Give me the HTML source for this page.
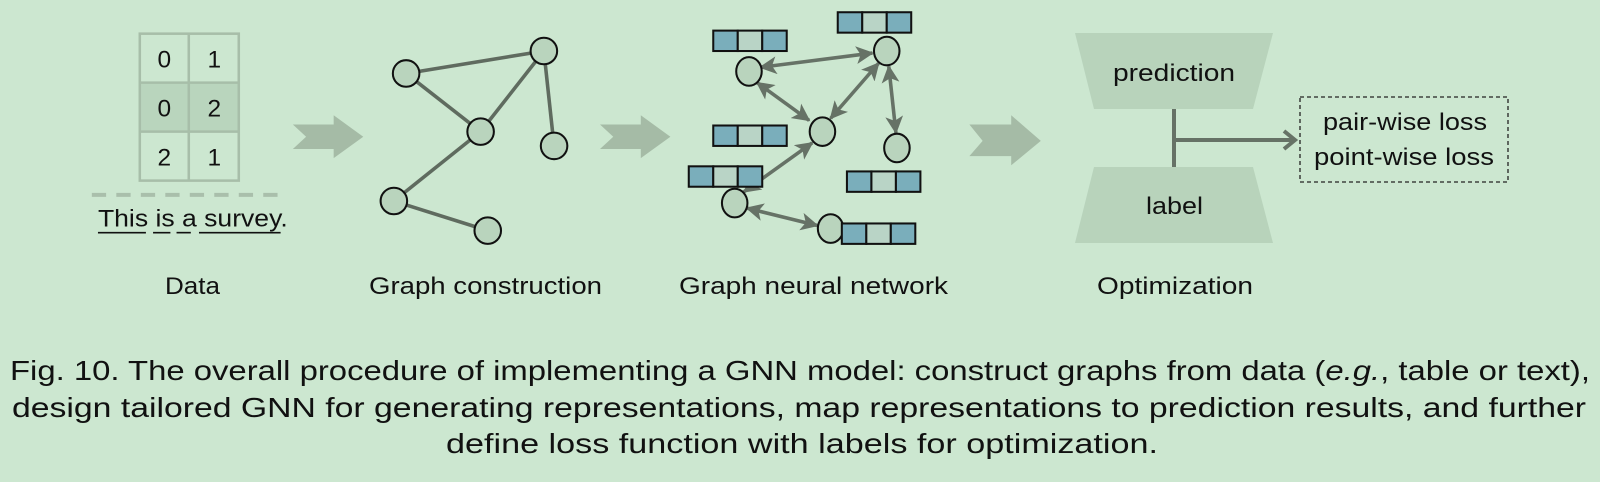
<!DOCTYPE html>
<html><head><meta charset="utf-8"><style>
html,body{margin:0;padding:0;background:#cce7d0;}
svg{display:block}
text{font-family:"Liberation Sans",sans-serif;fill:#111}
</style></head><body>
<svg width="1600" height="482" viewBox="0 0 1600 482" xmlns="http://www.w3.org/2000/svg">
<defs>
<marker id="ah" viewBox="0 0 12 12" refX="11" refY="6" markerWidth="5" markerHeight="5" orient="auto-start-reverse" markerUnits="strokeWidth">
<path d="M0,0 L12,6 L0,12 L3,6 Z" fill="#667266"/>
</marker>
</defs>
<rect width="1600" height="482" fill="#cce7d0"/>
<g transform="scale(1.0204)">
<!-- table -->
<rect x="137" y="81" width="97" height="48" fill="#b9d5bd"/>
<g stroke="#a7bea9" stroke-width="2.5" fill="none">
<rect x="137" y="33" width="97" height="144"/>
<line x1="185" y1="33" x2="185" y2="177"/>
<line x1="137" y1="81" x2="234" y2="81"/>
<line x1="137" y1="129" x2="234" y2="129"/>
</g>
<g font-size="24" text-anchor="middle">
<text x="161" y="66">0</text><text x="210" y="66">1</text>
<text x="161" y="114">0</text><text x="210" y="114">2</text>
<text x="161" y="162">2</text><text x="210" y="162">1</text>
</g>
<line x1="90" y1="191" x2="278" y2="191" stroke="#a9bfab" stroke-width="4" stroke-dasharray="14 10"/>
<text x="96" y="222" font-size="24" textLength="186" lengthAdjust="spacingAndGlyphs">This is a survey.</text>
<g stroke="#111" stroke-width="1.6">
<line x1="96" y1="228" x2="143" y2="228"/><line x1="150" y1="228" x2="167" y2="228"/>
<line x1="173" y1="228" x2="187" y2="228"/><line x1="195" y1="228" x2="275" y2="228"/>
</g>
<!-- chevrons -->
<g fill="#a5bba6">
<polygon points="287,122 327,122 327,113 356,134 327,155 327,146 287,146 300,134"/>
<polygon points="588,122 628,122 628,113 657,134 628,155 628,146 588,146 601,134"/>
<polygon points="950,122 991,122 991,113 1020,138 991,162 991,153 950,153 963,138"/>
</g>
<!-- graph 1 -->
<g stroke="#5f6b5f" stroke-width="3.5">
<line x1="398" y1="72" x2="533" y2="50"/><line x1="398" y1="72" x2="471" y2="129"/>
<line x1="533" y1="50" x2="471" y2="129"/><line x1="533" y1="50" x2="543" y2="143"/>
<line x1="471" y1="129" x2="386" y2="197"/><line x1="386" y1="197" x2="478" y2="226"/>
</g>
<g fill="#b9d4bd" stroke="#111" stroke-width="2">
<circle cx="398" cy="72" r="13"/><circle cx="533" cy="50" r="13"/><circle cx="471" cy="129" r="13"/>
<circle cx="543" cy="143" r="13"/><circle cx="386" cy="197" r="13"/><circle cx="478" cy="226" r="13"/>
</g>
<!-- GNN -->
<g stroke="#667266" stroke-width="3.5" marker-start="url(#ah)" marker-end="url(#ah)">
<line x1="745" y1="66" x2="855" y2="52"/>
<line x1="742" y1="81" x2="793" y2="118"/>
<line x1="814" y1="116" x2="861" y2="62"/>
<line x1="871" y1="65" x2="878" y2="130"/>
<line x1="796" y1="140" x2="729" y2="188"/>
<line x1="732" y1="204" x2="801" y2="221"/>
</g>
<g fill="#b9d4bd" stroke="#111" stroke-width="2">
<ellipse cx="734" cy="70" rx="12.5" ry="14"/><ellipse cx="869" cy="50" rx="12.5" ry="14"/>
<ellipse cx="806" cy="129" rx="12.5" ry="14"/><ellipse cx="879" cy="145" rx="12.5" ry="14"/>
<ellipse cx="720" cy="199" rx="12.5" ry="14"/><ellipse cx="814" cy="224" rx="12.5" ry="14"/>
</g>
<g stroke="#111" stroke-width="2">
<g transform="translate(699,30)"><rect width="24" height="20" fill="#7aaebb"/><rect x="24" width="24" height="20" fill="#b9d4c6"/><rect x="48" width="24" height="20" fill="#7aaebb"/></g>
<g transform="translate(821,12)"><rect width="24" height="20" fill="#7aaebb"/><rect x="24" width="24" height="20" fill="#b9d4c6"/><rect x="48" width="24" height="20" fill="#7aaebb"/></g>
<g transform="translate(699,123)"><rect width="24" height="20" fill="#7aaebb"/><rect x="24" width="24" height="20" fill="#b9d4c6"/><rect x="48" width="24" height="20" fill="#7aaebb"/></g>
<g transform="translate(675,163)"><rect width="24" height="20" fill="#7aaebb"/><rect x="24" width="24" height="20" fill="#b9d4c6"/><rect x="48" width="24" height="20" fill="#7aaebb"/></g>
<g transform="translate(830,168)"><rect width="24" height="20" fill="#7aaebb"/><rect x="24" width="24" height="20" fill="#b9d4c6"/><rect x="48" width="24" height="20" fill="#7aaebb"/></g>
<g transform="translate(825,219)"><rect width="24" height="20" fill="#7aaebb"/><rect x="24" width="24" height="20" fill="#b9d4c6"/><rect x="48" width="24" height="20" fill="#7aaebb"/></g>
</g>
</g>
<!-- optimization -->
<polygon points="1075,33 1273,33 1253,109 1094,109" fill="#b8d3bb"/>
<polygon points="1094,167 1253,167 1273,243 1075,243" fill="#b8d3bb"/>
<text x="1113" y="81" font-size="24" textLength="122" lengthAdjust="spacingAndGlyphs">prediction</text>
<text x="1146" y="214" font-size="24" textLength="57" lengthAdjust="spacingAndGlyphs">label</text>
<line x1="1174" y1="109" x2="1174" y2="167" stroke="#667266" stroke-width="4"/>
<line x1="1174" y1="140" x2="1293" y2="140" stroke="#667266" stroke-width="4"/>
<polyline points="1284,131 1295,140 1284,149" fill="none" stroke="#667266" stroke-width="4"/>
<rect x="1300" y="97" width="208" height="85" fill="none" stroke="#222" stroke-width="1.3" stroke-dasharray="4 3"/>
<text x="1323" y="130" font-size="24" textLength="164" lengthAdjust="spacingAndGlyphs">pair-wise loss</text>
<text x="1314" y="165" font-size="24" textLength="180" lengthAdjust="spacingAndGlyphs">point-wise loss</text>
<!-- labels -->
<g font-size="24">
<text x="165" y="294" textLength="55" lengthAdjust="spacingAndGlyphs">Data</text>
<text x="369" y="294" textLength="233" lengthAdjust="spacingAndGlyphs">Graph construction</text>
<text x="679" y="294" textLength="269" lengthAdjust="spacingAndGlyphs">Graph neural network</text>
<text x="1097" y="294" textLength="156" lengthAdjust="spacingAndGlyphs">Optimization</text>
</g>
<!-- caption -->
<g font-size="28">
<text x="10" y="380" textLength="1580" lengthAdjust="spacingAndGlyphs">Fig. 10.  The overall procedure of implementing a GNN model: construct graphs from data (<tspan font-style="italic">e.g.</tspan>, table or text),</text>
<text x="12" y="417" textLength="1574" lengthAdjust="spacingAndGlyphs">design tailored GNN for generating representations, map representations to prediction results, and further</text>
<text x="446" y="453" textLength="712" lengthAdjust="spacingAndGlyphs">define loss function with labels for optimization.</text>
</g>
</svg>
</body></html>
